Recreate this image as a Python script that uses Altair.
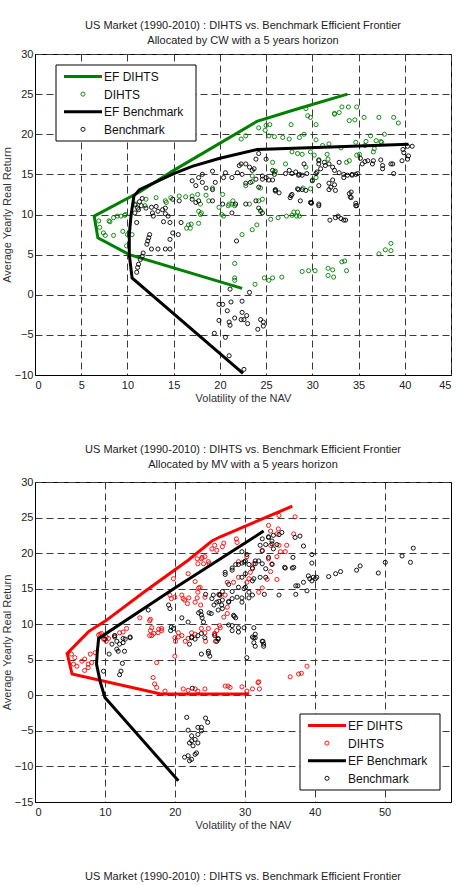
import altair as alt
import pandas as pd

FONT = "Liberation Sans"
GREEN = "#008000"
RED = "#ff0000"
BLACK = "#000000"

TITLE_MAIN = "US Market (1990-2010) : DIHTS vs. Benchmark Efficient Frontier"
LEGEND_LABELS = ["EF DIHTS", "DIHTS", "EF Benchmark", "Benchmark"]

# ---------------- Allocation by CW ----------------
cw_ef_dihts_x = [22.4, 10.2, 6.8, 6.4, 11.3, 15.0, 24.0, 28.8, 33.8]
cw_ef_dihts_y = [0.8, 5.0, 7.1, 9.8, 12.8, 15.5, 21.6, 23.3, 25.0]

cw_ef_bench_x = [22.5, 10.5, 10.2, 10.2, 10.4, 10.7, 11.3, 15.0, 17.0, 20.0, 24.0, 32.0, 40.4]
cw_ef_bench_y = [-9.8, 2.1, 5.0, 7.5, 10.0, 12.3, 13.1, 15.1, 16.0, 17.0, 18.1, 18.4, 18.75]

cw_dihts_x = [
    29.3, 29.5, 29.8, 30.4, 32.4, 32.9, 33.2, 33.9, 34.0, 34.6, 35.6, 37.2, 38.8, 39.3,
    27.7, 25.4, 25.0, 24.9, 25.3, 25.9, 26.8, 27.5, 28.6, 29.1, 30.4, 22.8, 27.8, 28.4,
    28.9, 29.8, 30.7, 31.6, 33.1, 34.0, 34.7, 35.1, 35.8, 36.3, 36.9, 37.4, 37.8, 36.7,
    25.7, 25.9, 27.1, 29.3, 30.4, 29.8, 22.8, 23.5, 24.2, 24.4, 28.0, 28.4, 31.8,
    22.3, 24.2, 19.2, 18.5, 17.6, 15.6, 14.1, 16.3, 17.0, 17.9, 18.8, 19.9, 20.3, 21.4,
    21.0, 23.2, 24.6, 23.5, 24.4, 26.0, 26.0, 28.3, 28.6, 27.2, 29.0, 30.0, 30.2, 31.1,
    31.7, 33.7, 34.8, 35.7, 37.5, 36.6, 32.4, 34.8, 10.9, 12.0, 13.1, 14.7, 8.5, 9.3,
    9.8, 8.0, 6.9, 7.0, 7.4, 7.6, 8.5, 8.1, 8.9, 9.7, 9.5, 10.0, 10.5, 9.9, 11.9, 14.2,
    16.6, 16.9, 17.7, 16.4, 16.8, 17.9, 17.7, 18.0, 20.2, 20.4, 20.9, 21.3, 21.6, 22.4,
    21.6, 21.6, 21.6, 23.5, 24.0, 24.4, 25.5, 26.3, 27.8, 23.8, 24.8, 25.3, 25.7, 26.7,
    28.9, 29.6, 30.3, 31.7, 32.2, 31.7, 32.3, 33.2, 33.5, 33.7, 37.2, 37.9, 38.5, 38.5,
]
cw_dihts_y = [
    23.2, 22.3, 22.1, 21.2, 22.5, 22.7, 23.4, 23.4, 21.7, 21.8, 22.1, 22.1, 22.1, 21.4,
    21.2, 21.2, 21.1, 20.5, 19.8, 19.7, 19.6, 19.4, 19.6, 20.0, 19.3, 19.8, 17.8, 17.6,
    17.5, 17.8, 16.7, 17.5, 18.3, 16.7, 19.0, 17.5, 19.1, 19.8, 19.2, 19.1, 20.0, 18.2,
    16.5, 15.3, 16.3, 15.9, 14.6, 13.2, 13.6, 14.8, 11.7, 10.5, 10.3, 10.3, 18.8,
    19.4, 20.8, 13.3, 12.4, 12.5, 12.3, 11.7, 12.2, 12.3, 11.3, 11.7, 10.9, 12.5, 11.7,
    11.3, 11.3, 11.9, 14.1, 13.3, 12.9, 15.4, 9.8, 9.8, 9.8, 13.3, 14.3, 17.4, 18.6,
    16.9, 16.5, 17.4, 18.6, 19.0, 17.8, 22.6, 23.4, 11.3, 11.9, 12.1, 12.1, 9.6, 9.8,
    10.0, 9.2, 9.2, 8.4, 7.7, 7.4, 7.4, 9.1, 9.8, 9.9, 7.9, 7.5, 7.5, 6.1, 11.1, 11.5,
    8.7, 8.8, 8.9, 8.3, 8.3, 10.0, 10.4, 10.2, 10.0, 9.8, 11.1, 11.3, 11.1, 7.5,
    3.9, 2.1, 1.8, 8.1, 8.7, 10.4, 9.4, 9.6, 9.9, 1.3, 2.1, 1.8, 2.1, 2.2,
    2.9, 3.0, 3.0, 3.3, 3.1, 2.4, 2.2, 4.1, 4.2, 3.0, 5.1, 5.6, 5.5, 6.4,
]

cw_bench_x = [
    40.3, 40.8, 39.8, 39.9, 40.3, 40.4, 38.7, 38.8, 37.6, 36.6, 36.0, 35.2, 34.9, 34.3,
    33.8, 33.4, 32.9, 32.2, 31.8, 31.3, 30.7, 30.4, 34.0, 34.1, 34.7, 32.2, 31.8, 32.4,
    29.9, 30.7, 28.7, 28.9, 28.5, 27.8, 27.6, 26.4, 27.1, 27.8, 28.2, 28.5, 24.2, 25.0,
    23.9, 22.8, 22.3, 23.5, 22.4, 21.9, 20.6, 19.2, 18.1, 17.7, 17.0, 17.4, 18.5, 19.2,
    18.1, 19.5, 20.4, 21.3, 22.8, 24.6, 25.0, 25.3, 25.9, 26.0, 23.9, 24.2, 24.6, 22.8,
    21.7, 21.3, 20.3, 19.2, 17.7, 17.4, 17.0, 15.6, 14.9, 14.1, 13.8, 13.1, 12.7, 12.0,
    11.3, 11.1, 11.6, 28.9, 29.4, 37.4, 37.6, 38.5, 39.7, 35.4, 35.7, 36.5, 34.7, 34.3,
    33.4, 32.9, 31.4, 32.4, 30.7, 30.9, 30.5, 30.0, 28.6, 28.4, 29.3, 27.7, 26.0, 30.7,
    31.8, 32.0, 32.5, 34.2, 34.2, 34.7, 29.8, 23.3, 23.9, 24.6, 25.7, 24.2, 22.1, 23.2,
    23.7, 25.7, 27.5, 29.1,
    10.8, 11.5, 12.6, 12.8, 13.3, 14.1, 14.4, 13.9, 14.6, 15.8, 14.9, 15.5, 14.6, 12.4,
    12.3, 12.2, 12.1, 12.6, 13.3, 14.1, 14.6, 11.7, 11.6, 11.4, 11.2, 11.1, 11.0, 11.0,
    10.8, 11.2, 21.8, 29.9, 30.7, 34.8, 31.9, 32.5, 32.8, 33.1, 33.4, 33.6, 23.2, 22.4,
    22.4, 22.9, 23.0, 22.6, 22.3, 24.4, 24.7, 24.7, 24.1, 22.6, 21.1, 19.9, 20.3, 21.2,
    20.8, 21.6, 21.0, 21.1, 19.9, 19.4, 20.6, 21.0,
]
cw_bench_y = [
    18.5, 18.5, 18.1, 17.7, 16.9, 17.3, 16.3, 15.1, 16.1, 16.7, 16.7, 17.0, 15.1, 14.9,
    14.9, 15.0, 15.2, 15.9, 16.3, 16.5, 16.3, 15.1, 12.6, 12.2, 11.4, 14.3, 13.1, 13.7,
    11.5, 11.3, 11.7, 13.1, 13.1, 12.5, 12.1, 12.7, 15.1, 15.1, 15.3, 14.9, 17.6, 16.9,
    16.9, 16.3, 16.3, 15.5, 15.0, 15.2, 15.2, 15.4, 15.0, 14.6, 14.2, 13.6, 13.3, 13.1,
    14.0, 14.0, 14.6, 14.6, 13.9, 14.8, 14.6, 14.3, 15.0, 13.1, 11.7, 10.8, 10.2, 11.3,
    11.3, 10.2, 11.3, 11.7, 11.7, 11.5, 11.9, 11.7, 11.9, 10.8, 10.6, 11.0, 10.2, 10.8,
    11.6, 10.8, 12.0, 14.9, 15.1, 16.8, 15.7, 16.3, 16.7, 16.3, 16.6, 16.3, 15.0, 15.0,
    14.6, 16.5, 16.1, 15.5, 16.8, 15.7, 15.3, 14.2, 15.0, 13.2, 13.0, 12.35, 13.0, 13.6,
    13.9, 13.4, 13.0, 12.8, 12.1, 11.1, 11.5, 14.0, 14.4, 14.4, 14.3, 13.4, 16.1, 15.9,
    15.7, 15.5, 15.5, 16.3,
    11.2, 11.1, 10.9, 9.8, 10.4, 10.1, 9.8, 9.1, 9.0, 9.0, 7.7, 7.5, 6.9, 7.5,
    7.1, 6.7, 6.3, 5.7, 5.7, 5.7, 5.7, 5.2, 4.8, 4.4, 3.8, 3.4, 2.8, 9.0,
    10.2, 10.6, 6.7, 11.4, 11.1, 11.1, 9.3, 9.6, 9.8, 9.5, 9.3, 9.3, 0.3, -0.8,
    -2.2, -2.6, -3.6, -3.1, -3.1, -3.1, -3.4, -3.9, -4.3, -9.3, 0.7, -1.2, -1.2, -0.9,
    -2.0, -2.9, -3.4, -3.8, -3.2, -4.8, -5.3, -7.6,
]

# ---------------- Allocation by MV ----------------
mv_ef_dihts_x = [30.6, 18.0, 5.3, 4.6, 6.5, 7.7, 10.0, 15.7, 21.9, 25.3, 26.5, 36.8]
mv_ef_dihts_y = [0.2, 0.2, 3.0, 5.9, 7.8, 9.0, 10.4, 14.6, 19.0, 21.7, 22.3, 26.6]

mv_ef_bench_x = [20.5, 10.0, 9.3, 8.8, 8.9, 9.1, 20.0, 32.7]
mv_ef_bench_y = [-12.0, -0.3, 2.0, 4.4, 6.0, 8.0, 15.1, 23.1]

mv_dihts_x = [
    9.1, 9.5, 10.2, 10.5, 11.4, 12.1, 12.6, 13.1, 15.0, 16.4, 16.7, 16.4, 17.0, 17.6,
    18.1, 19.8, 19.3, 19.5, 20.0, 21.0, 21.2, 21.4, 21.8, 21.9, 23.3, 23.8, 24.3, 24.8,
    23.3, 23.6, 24.3, 25.7, 26.0, 26.4, 25.7, 24.8, 22.9, 20.5, 21.0, 21.9, 23.8,
    16.5, 16.5, 17.7, 22.0, 22.9, 23.2, 23.9, 24.1, 24.9, 23.2, 23.4, 23.7,
    27.0, 28.8, 33.4, 33.7, 34.9, 37.2, 37.0, 36.0, 35.8, 34.6, 33.4, 33.9, 33.7, 34.6,
    33.2, 32.5, 32.0, 31.1, 30.8, 30.6, 30.3, 31.3, 30.3, 29.1, 29.1, 28.4, 27.5, 27.2,
    27.5, 27.5, 27.0, 26.5, 26.5, 34.8, 34.6, 33.7, 32.5, 34.9, 35.1,
    25.3, 26.8, 28.9, 20.1, 21.5, 22.9, 24.4, 25.8,
    5.2, 5.7, 5.5, 6.0, 6.7, 7.1, 7.6, 8.1, 7.6, 7.1, 7.9, 8.6, 9.3, 9.8, 10.2, 16.7,
    17.4, 16.9, 17.1, 17.4, 18.6, 20.0, 20.5, 21.2, 21.9, 22.9, 23.3, 24.3, 25.7, 26.0,
    24.3, 22.4, 20.0, 18.1,
    27.2, 27.6, 27.9, 29.6, 30.3, 31.1, 31.9, 32.0, 32.1, 36.5, 37.7, 38.1, 38.9,
]
mv_dihts_y = [
    8.5, 8.7, 8.2, 8.0, 8.4, 8.8, 8.9, 9.4, 10.9, 10.5, 9.5, 8.4, 8.7, 8.8,
    9.4, 16.4, 14.1, 13.6, 13.8, 14.1, 13.6, 13.4, 12.9, 17.1, 18.5, 19.2, 19.5, 18.8,
    14.5, 15.2, 13.8, 21.1, 20.4, 9.8, 8.7, 9.4, 13.1, 8.2, 8.4, 8.0, 9.4,
    10.7, 9.1, 9.3, 13.7, 16.0, 19.2, 19.4, 18.5, 18.5, 13.7, 15.1, 12.7,
    21.4, 22.0, 23.9, 23.1, 25.3, 25.1, 22.7, 21.1, 20.2, 19.5, 19.2, 18.5, 17.4, 16.3,
    16.3, 15.1, 14.5, 17.8, 17.3, 16.4, 15.9, 18.5, 19.5, 18.8, 16.6, 15.9, 15.9, 14.1,
    12.4, 11.5, 11.0, 14.1, 9.5, 23.4, 22.7, 21.1, 20.4, 21.1, 20.2,
    20.6, 20.9, 21.5, 7.6, 7.6, 8.6, 7.6, 7.6,
    5.8, 5.3, 4.4, 4.1, 4.8, 5.1, 4.4, 4.6, 3.9, 3.5, 5.8, 6.0, 8.6, 7.9, 7.6, 8.4,
    4.6, 2.5, 1.6, 1.1, 0.6, 5.5, 8.8, 0.9, 0.7, 0.9, 0.6, 0.9, 8.6, 9.1,
    8.8, 8.8, 8.1, 9.1,
    1.3, 1.3, 1.1, 1.2, 0.6, 0.9, 1.8, 1.9, 0.9, 2.6, 3.0, 3.1, 4.1,
]

mv_bench_x = [
    16.2, 19.1, 19.3, 21.0, 21.9, 19.5, 19.8, 23.8, 24.1, 25.2, 26.2, 26.7, 26.0, 25.5,
    26.4, 12.6, 13.6, 11.4, 22.4, 23.3, 23.8, 25.7, 26.2,
    19.4, 23.4, 23.7, 23.9, 24.4, 24.9, 25.3, 25.6, 26.3, 26.3, 26.8, 27.2, 27.7, 28.2,
    28.7, 29.1, 29.6, 30.1, 30.3, 30.6, 31.1, 31.5, 32.0, 32.5, 33.0, 33.4, 33.9, 34.6,
    34.9, 35.3, 33.4, 33.9, 33.0, 31.1, 29.6, 29.1, 30.1, 30.6, 29.6, 28.2, 27.7, 28.7,
    27.7, 28.2, 29.1, 28.5, 31.3, 31.5, 32.5, 32.7, 31.3, 35.8, 36.8, 36.9, 37.2, 37.9,
    38.4, 37.3, 37.3, 37.6, 38.4, 38.9, 39.1, 39.3, 39.6, 39.8, 40.1, 40.3, 39.6, 42.0,
    43.0, 43.7, 46.0, 46.5, 49.1, 50.1, 52.5, 53.7, 54.1, 39.6, 34.9, 35.7, 37.0, 32.8,
    27.2, 28.2, 29.6, 29.9, 30.1, 31.5, 32.2, 32.5, 33.4, 34.1, 33.9, 34.1, 32.5, 33.0,
    32.2, 31.3, 30.6, 29.9, 28.9, 29.6, 28.2, 27.7, 26.8, 26.8, 28.4, 28.2, 29.1, 29.9,
    31.1,
    10.0, 11.0, 11.7, 12.1, 12.6, 12.9, 13.6, 11.4, 11.7, 11.9, 12.8, 10.6, 12.5, 12.3,
    12.1, 9.8, 21.7, 21.9, 22.4, 22.4, 22.1, 22.6, 22.9, 23.3, 23.3, 23.8, 23.8, 24.4,
    24.7, 21.4, 21.9, 22.4, 22.9, 23.1, 23.3, 22.1, 22.1, 23.8, 24.8, 25.0, 24.8, 22.4,
    22.9, 24.3, 26.0, 26.2, 22.5,
    31.1, 31.5, 31.3, 31.5, 32.6, 32.7, 30.3,
]
mv_bench_y = [
    12.0, 12.7, 12.2, 10.9, 10.3, 9.6, 9.4, 11.3, 10.3, 11.5, 12.0, 12.7, 13.1, 14.1,
    14.1, 8.0, 8.2, 8.2, 8.2, 8.4, 8.7, 8.4, 8.0,
    9.1, 11.6, 11.8, 10.9, 14.2, 11.6, 13.6, 12.7, 13.2, 14.2, 14.6, 17.0, 15.6, 17.9,
    18.4, 18.4, 18.6, 18.9, 19.8, 18.4, 17.9, 18.9, 18.9, 20.3, 21.2, 22.2, 21.7, 21.2,
    22.6, 22.9, 19.4, 18.4, 16.6, 16.1, 16.6, 15.2, 15.2, 13.7, 13.7, 14.6, 13.2, 10.9,
    9.9, 9.1, 9.5, 11.1, 9.5, 8.6, 7.6, 7.2, 8.1, 17.9, 17.9, 19.4, 22.2, 22.4,
    21.0, 14.2, 15.4, 15.4, 15.9, 14.7, 16.8, 16.4, 16.1, 16.6, 16.4, 16.6, 19.8, 16.7,
    17.1, 17.4, 17.6, 18.2, 17.2, 18.7, 19.6, 18.7, 20.7, 18.6, 14.1, 18.0, 18.0, 14.2,
    17.3, 17.6, 20.2, 18.75, 17.1, 18.5, 21.1, 22.0, 22.3, 22.5, 21.3, 20.6, 18.5, 17.8,
    16.6, 16.4, 14.5, 15.0, 13.8, 13.1, 13.6, 13.1, 12.2, 13.4, 11.25, 9.8, 8.9, 9.5,
    14.1,
    7.9, 7.2, 7.6, 7.2, 7.4, 7.9, 8.1, 8.4, 6.5, 6.2, 6.2, 5.8, 4.5, 3.4,
    2.9, 3.4, -3.1, -4.9, -5.7, -6.4, -6.7, -7.1, -6.2, -5.5, -4.5, -5.0, -4.5, -3.2,
    -3.8, -8.7, -8.5, -9.0, -8.3, -8.1, -6.7, -9.2, 7.2, 5.8, 6.2, 5.5, 5.9, 8.1,
    7.9, 8.1, 7.6, 7.9, 1.0,
    8.2, 8.1, 7.4, 6.9, 7.6, 6.9, 5.3,
]


def frame(xs, ys):
    return pd.DataFrame({"vol": xs, "ret": ys, "i": range(len(xs))})


def panel(subtitle, ef_d, dihts, ef_b, bench, color, x_dom, x_ticks, y_dom, y_ticks,
          legend_at, title_offset, footer=None):
    x_enc = alt.X("vol:Q", scale=alt.Scale(domain=x_dom, nice=False, zero=False),
                  axis=alt.Axis(values=x_ticks, title="Volatility of the NAV"))
    y_enc = alt.Y("ret:Q", scale=alt.Scale(domain=y_dom, nice=False, zero=False),
                  axis=alt.Axis(values=y_ticks, title="Average Yearly Real Return"))

    def line(df, c):
        return alt.Chart(df).mark_line(color=c, strokeWidth=3, clip=True).encode(
            x=x_enc, y=y_enc, order="i:Q")

    def dots(df, c):
        return alt.Chart(df).mark_point(shape="circle", filled=False, color=c, size=17,
                                        strokeWidth=0.9, opacity=1, clip=True).encode(
            x=x_enc, y=y_enc)

    layers = [line(ef_d, color), dots(dihts, color), line(ef_b, BLACK), dots(bench, BLACK)]

    # legend box
    lx, ly = legend_at
    one = pd.DataFrame({"k": [0]})
    layers.append(alt.Chart(one).mark_rect(fill="white", stroke="black", strokeWidth=1).encode(
        x=alt.value(lx), x2=alt.value(lx + 140), y=alt.value(ly), y2=alt.value(ly + 76)))
    colors = [color, color, BLACK, BLACK]
    for k, lab in enumerate(LEGEND_LABELS):
        yy = ly + 11.5 + k * 17.6
        if lab.startswith("EF"):
            layers.append(alt.Chart(one).mark_rule(color=colors[k], strokeWidth=3).encode(
                x=alt.value(lx + 8), x2=alt.value(lx + 46), y=alt.value(yy)))
        else:
            layers.append(alt.Chart(one).mark_point(shape="circle", filled=False, size=17,
                                                    strokeWidth=0.9, color=colors[k], opacity=1).encode(
                x=alt.value(lx + 27), y=alt.value(yy)))
        layers.append(alt.Chart(pd.DataFrame({"t": [lab]})).mark_text(
            align="left", baseline="middle", font=FONT, fontSize=12, color="#111").encode(
            x=alt.value(lx + 48), y=alt.value(yy + 0.5), text="t:N"))

    if footer is not None:
        layers.append(alt.Chart(pd.DataFrame({"t": [footer]})).mark_text(
            align="center", baseline="middle", font=FONT, fontSize=11, color="#222").encode(
            x=alt.value(208), y=alt.value(395), text="t:N"))

    return alt.layer(*layers).properties(
        width=416, height=321,
        title=alt.Title([TITLE_MAIN, subtitle], fontSize=11, fontWeight="normal", font=FONT,
                        color="#222", lineHeight=15, offset=title_offset, anchor="middle"),
    )


top = panel("Allocated by CW with a 5 years horizon",
            frame(cw_ef_dihts_x, cw_ef_dihts_y), frame(cw_dihts_x, cw_dihts_y),
            frame(cw_ef_bench_x, cw_ef_bench_y), frame(cw_bench_x, cw_bench_y),
            GREEN, [0, 45], list(range(0, 46, 5)), [-10, 30], list(range(-10, 31, 5)),
            (21, 11), 2)

bottom = panel("Allocated by MV with a 5 years horizon",
               frame(mv_ef_dihts_x, mv_ef_dihts_y), frame(mv_dihts_x, mv_dihts_y),
               frame(mv_ef_bench_x, mv_ef_bench_y), frame(mv_bench_x, mv_bench_y),
               RED, [0, 59.5], list(range(0, 51, 10)), [-15, 30], list(range(-15, 31, 5)),
               (265, 232), 6, footer=TITLE_MAIN).properties(height=320)

chart = alt.vconcat(top, bottom, spacing=107).properties(
    bounds="flush", background="white",
    padding={"left": 0, "top": 19, "right": 0, "bottom": 0},
).configure_view(
    stroke="black", strokeWidth=1
).configure_axis(
    grid=True, gridDash=[7, 4], gridColor="#3a3a3a", gridWidth=1, gridOpacity=1,
    domainColor="black", domainWidth=1, ticks=False,
    labelFont=FONT, labelFontSize=11, labelColor="#222", labelPadding=4,
    titleFont=FONT, titleFontSize=11, titleFontWeight="normal", titleColor="#333",
).configure_axisY(titlePadding=2, labelPadding=2).configure_axisX(titlePadding=2)

chart.save("out.html", embed_options={"renderer": "svg", "actions": False})
